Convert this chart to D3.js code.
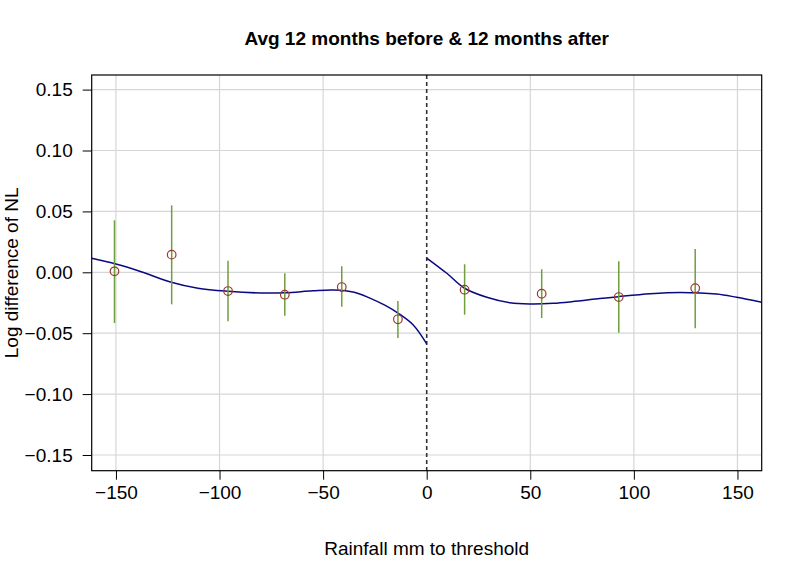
<!DOCTYPE html>
<html>
<head>
<meta charset="utf-8">
<script src="https://cdn.jsdelivr.net/npm/d3@7"></script>
<style>
  html, body { margin: 0; padding: 0; background: #fff; }
  svg { display: block; font-family: "Liberation Sans", Arial, Helvetica, sans-serif; }
</style>
</head>
<body>
<svg id="chart" width="800" height="571"></svg>
<script>
// ---- data ----
const pointX  = [-150.7, -123.1, -95.9, -68.5, -41.0, -13.9, 18.3, 55.5, 92.7, 129.6];
const pointY  = [0.0008, 0.0145, -0.0154, -0.0184, -0.0121, -0.0386, -0.0143, -0.0176, -0.0203, -0.0131];
const ciLow   = [-0.0416, -0.0263, -0.0402, -0.0356, -0.0282, -0.0540, -0.0348, -0.0375, -0.0496, -0.0460];
const ciHigh  = [0.0427, 0.0550, 0.0095, -0.0008, 0.0049, -0.0236, 0.0066, 0.0025, 0.0090, 0.0191];

const leftFitX  = [-161.7, -150, -137.8, -123.3, -110.4, -95.9, -80, -68.4, -55, -45, -35, -27.4, -20, -13.7, -6.5, 0];
const leftFitY  = [0.0115, 0.0068, 0.0005, -0.0082, -0.0131, -0.0156, -0.0170, -0.0168, -0.0152, -0.0145, -0.0163, -0.0212, -0.0272, -0.0337, -0.0433, -0.0588];
const rightFitX = [0, 9.7, 18.3, 29, 40.2, 49.9, 61.1, 70, 83.6, 92.5, 107.8, 122.3, 140, 149.6, 161.7];
const rightFitY = [0.0117, -0.0008, -0.0131, -0.0205, -0.0250, -0.0260, -0.0255, -0.0242, -0.0216, -0.0200, -0.0176, -0.0165, -0.0178, -0.0205, -0.0246];

const xTicks = [-150, -100, -50, 0, 50, 100, 150];
const yTicks = [-0.15, -0.10, -0.05, 0.00, 0.05, 0.10, 0.15];
const xDomain = [-161.7, 161.7];
const yDomain = [-0.1629, 0.162];

const titleText = "Avg 12 months before & 12 months after";
const xLabel = "Rainfall mm to threshold";
const yLabel = "Log difference of NL";

// ---- layout ----
const plot = { left: 91.7, right: 761.7, top: 75, bottom: 470.7 };
const svg = d3.select("#chart");
const FONT = 19;

const x = d3.scaleLinear().domain(xDomain).range([plot.left, plot.right]);
const y = d3.scaleLinear().domain(yDomain).range([plot.bottom, plot.top]);

svg.append("defs").append("clipPath").attr("id", "clip")
  .append("rect").attr("x", plot.left).attr("y", plot.top)
  .attr("width", plot.right - plot.left).attr("height", plot.bottom - plot.top);

// grid
const grid = svg.append("g");
grid.selectAll("line.vx").data(xTicks.filter(d => d !== 0)).join("line")
  .attr("x1", d => x(d)).attr("x2", d => x(d))
  .attr("y1", plot.top).attr("y2", plot.bottom)
  .attr("stroke", "#d6d6d6").attr("stroke-width", 1.2);
grid.selectAll("line.hy").data(yTicks).join("line")
  .attr("x1", plot.left).attr("x2", plot.right)
  .attr("y1", d => y(d)).attr("y2", d => y(d))
  .attr("stroke", "#d6d6d6").attr("stroke-width", 1.2);

// axes
const xAxis = d3.axisBottom(x).tickValues(xTicks).tickSize(9).tickPadding(3)
  .tickFormat(d => d3.format("d")(d).replace("-", "\u2212"));
const gx = svg.append("g").attr("transform", `translate(0,${plot.bottom})`).call(xAxis);
gx.select(".domain").remove();
gx.selectAll(".tick line").attr("stroke", "#000").attr("stroke-width", 1);
gx.selectAll(".tick text").attr("font-size", FONT).attr("fill", "#000")
  .attr("font-family", "'Liberation Sans', Arial, sans-serif").attr("dy", "0.85em");

const yAxis = d3.axisLeft(y).tickValues(yTicks).tickSize(9).tickPadding(10)
  .tickFormat(d => d3.format(".2f")(d).replace("-", "\u2212"));
const gy = svg.append("g").attr("transform", `translate(${plot.left},0)`).call(yAxis);
gy.select(".domain").remove();
gy.selectAll(".tick line").attr("stroke", "#000").attr("stroke-width", 1);
gy.selectAll(".tick text").attr("font-size", FONT).attr("fill", "#000")
  .attr("font-family", "'Liberation Sans', Arial, sans-serif");

// vertical dashed threshold line
svg.append("line")
  .attr("x1", x(0)).attr("x2", x(0)).attr("y1", plot.top).attr("y2", plot.bottom)
  .attr("stroke", "#333").attr("stroke-width", 1.6).attr("stroke-dasharray", "4,3");

// fitted curves
const line = d3.line().x(d => x(d[0])).y(d => y(d[1])).curve(d3.curveCatmullRom.alpha(0.5));
const curves = svg.append("g").attr("clip-path", "url(#clip)");
curves.append("path").datum(d3.zip(leftFitX, leftFitY)).attr("d", line)
  .attr("fill", "none").attr("stroke", "#0a0a80").attr("stroke-width", 1.5);
curves.append("path").datum(d3.zip(rightFitX, rightFitY)).attr("d", line)
  .attr("fill", "none").attr("stroke", "#0a0a80").attr("stroke-width", 1.5);

// error bars
const pts = pointX.map((px, i) => ({ x: px, y: pointY[i], lo: ciLow[i], hi: ciHigh[i] }));
svg.append("g").selectAll("line").data(pts).join("line")
  .attr("x1", d => x(d.x)).attr("x2", d => x(d.x))
  .attr("y1", d => y(d.lo)).attr("y2", d => y(d.hi))
  .attr("stroke", "#6e9e3e").attr("stroke-width", 1.5);

// points
svg.append("g").selectAll("circle").data(pts).join("circle")
  .attr("cx", d => x(d.x)).attr("cy", d => y(d.y)).attr("r", 4.3)
  .attr("fill", "none").attr("stroke", "#9a3b2e").attr("stroke-width", 1.2);

// border
svg.append("rect").attr("x", plot.left).attr("y", plot.top)
  .attr("width", plot.right - plot.left).attr("height", plot.bottom - plot.top)
  .attr("fill", "none").attr("stroke", "#000").attr("stroke-width", 1.2);

// title and labels
svg.append("text").attr("x", (plot.left + plot.right) / 2).attr("y", 45)
  .attr("text-anchor", "middle").attr("font-weight", "bold").attr("font-size", FONT)
  .text(titleText);
svg.append("text").attr("x", (plot.left + plot.right) / 2).attr("y", 555)
  .attr("text-anchor", "middle").attr("font-size", FONT).text(xLabel);
svg.append("text")
  .attr("transform", `translate(18,${(plot.top + plot.bottom) / 2}) rotate(-90)`)
  .attr("text-anchor", "middle").attr("font-size", FONT).text(yLabel);
</script>
</body>
</html>
